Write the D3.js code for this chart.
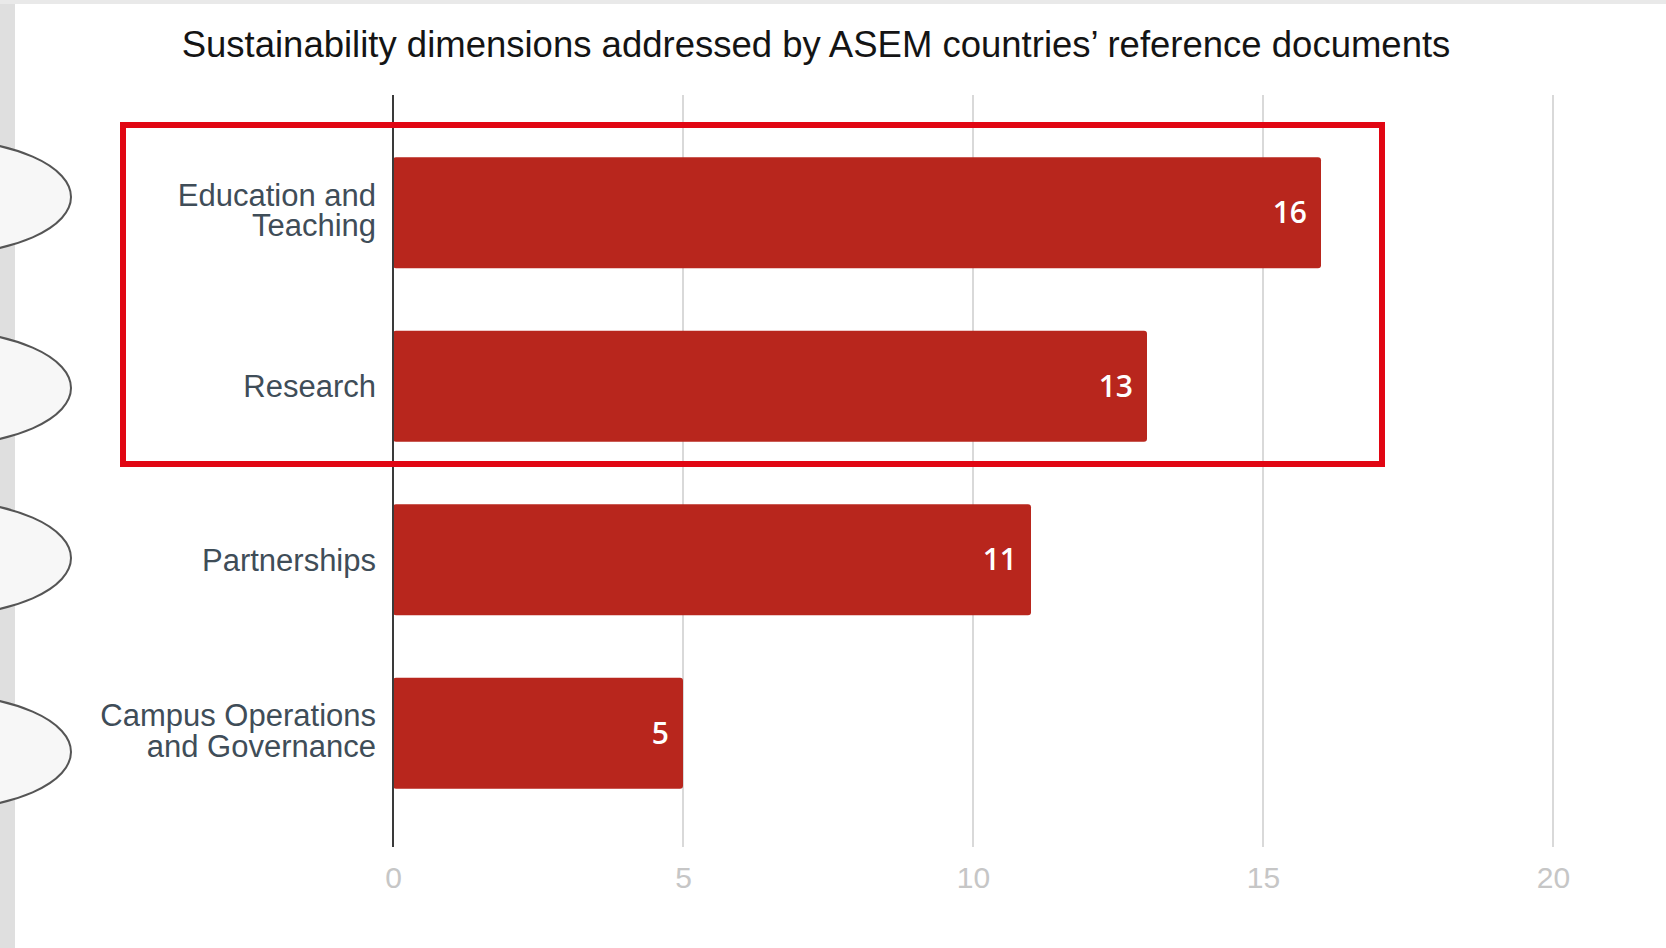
<!DOCTYPE html>
<html>
<head>
<meta charset="utf-8">
<title>Sustainability dimensions</title>
<script src="https://cdn.jsdelivr.net/npm/d3@7/dist/d3.min.js"></script>
<style>
  html, body { margin: 0; padding: 0; background: #ffffff; }
  svg { display: block; }
</style>
</head>
<body>
<svg id="chart" width="1666" height="948"></svg>
<script>
// Data
const categories = [
  "Education and Teaching",
  "Research",
  "Partnerships",
  "Campus Operations and Governance"
];
const categoryLines = [
  ["Education and", "Teaching"],
  ["Research"],
  ["Partnerships"],
  ["Campus Operations", "and Governance"]
];
const counts = [16, 13, 11, 5];
const tickValues = [0, 5, 10, 15, 20];
const chartTitle = "Sustainability dimensions addressed by ASEM countries\u2019 reference documents";

// Layout
const W = 1666, H = 948;
const plot = { left: 393, right: 1553, top: 95, bottom: 847 };
const bandTop = 126, bandBottom = 820;
const markerCenters = [197, 388, 558, 752];

const svg = d3.select("#chart");

// Page frame: grey strips along top and left edges
svg.append("rect").attr("x", 0).attr("y", 0).attr("width", W).attr("height", H).attr("fill", "#e9e9e9");
svg.append("rect").attr("x", 0).attr("y", 4).attr("width", 15).attr("height", H - 4).attr("fill", "#dfdfdf");
svg.append("rect").attr("x", 15).attr("y", 4).attr("width", W - 15).attr("height", H - 4).attr("fill", "#ffffff");

// Scales
const x = d3.scaleLinear().domain([0, 20]).range([plot.left, plot.right]);
const y = d3.scaleBand().domain(categories).range([bandTop, bandBottom])
  .paddingInner(0.36).paddingOuter(0.18);

// Title
svg.append("text")
  .attr("x", 816).attr("y", 57)
  .attr("text-anchor", "middle")
  .attr("font-family", "'Liberation Sans', Arial, sans-serif")
  .attr("font-size", 36.5)
  .attr("fill", "#141414")
  .text(chartTitle);

// Vertical gridlines
svg.append("g").selectAll("line")
  .data(tickValues.filter(d => d !== 0))
  .join("line")
  .attr("x1", d => x(d)).attr("x2", d => x(d))
  .attr("y1", plot.top).attr("y2", plot.bottom)
  .attr("stroke", "#d9d9d9").attr("stroke-width", 2);

// Bottom axis tick labels
const xAxis = d3.axisBottom(x).tickValues(tickValues).tickSize(0).tickPadding(0);
const gx = svg.append("g")
  .attr("transform", `translate(0,${plot.bottom})`)
  .call(xAxis);
gx.select(".domain").remove();
gx.selectAll("text")
  .attr("y", 41)
  .attr("dy", 0)
  .attr("font-family", "'Liberation Sans', Arial, sans-serif")
  .attr("font-size", 30)
  .attr("fill", "#c6c6c6");

// Bars
svg.append("g").selectAll("rect")
  .data(categories)
  .join("rect")
  .attr("x", x(0))
  .attr("y", d => y(d))
  .attr("width", (d, i) => x(counts[i]) - x(0))
  .attr("height", y.bandwidth())
  .attr("rx", 3)
  .attr("fill", "#b8261d");

// Value labels inside bar ends
svg.append("g").selectAll("text")
  .data(categories)
  .join("text")
  .attr("x", (d, i) => x(counts[i]) - 14)
  .attr("y", d => y(d) + y.bandwidth() / 2 + 10.5)
  .attr("text-anchor", "end")
  .attr("font-family", "'Open Sans', Roboto, sans-serif")
  .attr("font-size", 30)
  .attr("font-weight", 600)
  .attr("fill", "#ffffff")
  .text((d, i) => counts[i]);

// Baseline axis at zero
svg.append("line")
  .attr("x1", x(0)).attr("x2", x(0))
  .attr("y1", plot.top).attr("y2", plot.bottom)
  .attr("stroke", "#3a3a3a").attr("stroke-width", 2);

// Category labels (wrapped onto one or two lines)
const labels = svg.append("g").selectAll("text")
  .data(categories)
  .join("text")
  .attr("text-anchor", "end")
  .attr("font-family", "'Liberation Sans', Arial, sans-serif")
  .attr("font-size", 31)
  .attr("fill", "#3f4d58");
labels.each(function(d, i) {
  const lines = categoryLines[i];
  const cy = y(d) + y.bandwidth() / 2;
  const first = lines.length === 1 ? cy + 11 : cy - 7;
  d3.select(this).selectAll("tspan")
    .data(lines)
    .join("tspan")
    .attr("x", 376)
    .attr("y", (l, j) => first + j * 30.5)
    .text(l => l);
});

// Highlight box around the top two dimensions
svg.append("rect")
  .attr("x", 123).attr("y", 125)
  .attr("width", 1382 - 123).attr("height", 464 - 125)
  .attr("fill", "none")
  .attr("stroke", "#e10613")
  .attr("stroke-width", 6);

// Side markers
svg.append("g").selectAll("ellipse")
  .data(markerCenters)
  .join("ellipse")
  .attr("cx", -60).attr("cy", d => d)
  .attr("rx", 131).attr("ry", 57)
  .attr("fill", "#f7f7f7")
  .attr("stroke", "#555555")
  .attr("stroke-width", 2);
</script>
</body>
</html>
